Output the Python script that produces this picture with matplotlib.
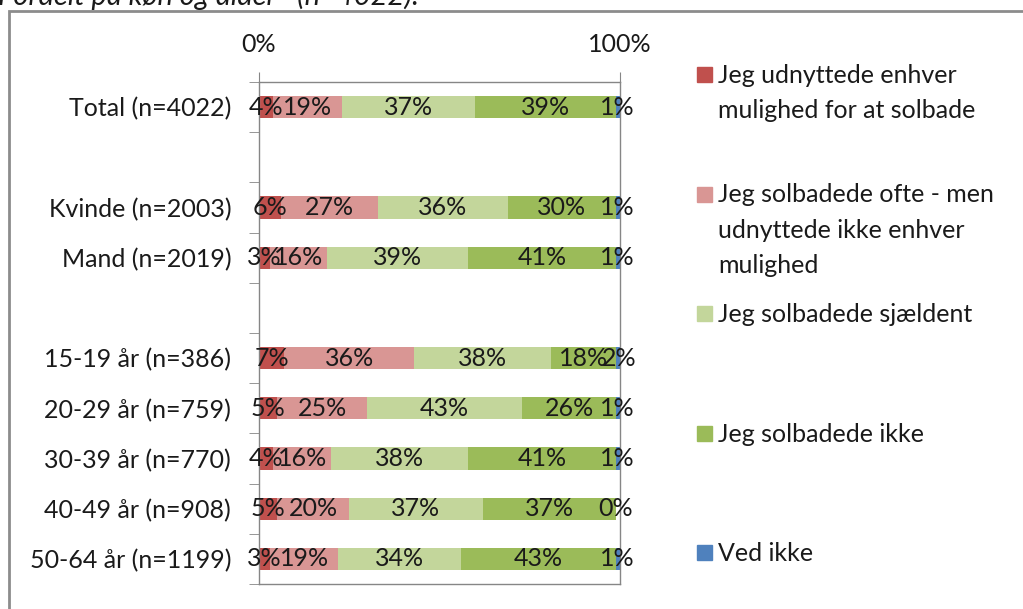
import numpy as np
import matplotlib.pyplot as plt
from matplotlib.patches import Rectangle

plt.rcParams['font.family'] = ['Lato', 'DejaVu Sans']

# Data (blank rows are spacers between groups)
grupper = ["Total (n=4022)", "", "Kvinde (n=2003)", "Mand (n=2019)", "",
           "15-19 år (n=386)", "20-29 år (n=759)", "30-39 år (n=770)",
           "40-49 år (n=908)", "50-64 år (n=1199)"]
svar = ["Jeg udnyttede enhver\nmulighed for at solbade",
        "Jeg solbadede ofte - men\nudnyttede ikke enhver\nmulighed",
        "Jeg solbadede sjældent",
        "Jeg solbadede ikke",
        "Ved ikke"]
nan = np.nan
udnyttede = [4, nan, 6, 3, nan, 7, 5, 4, 5, 3]
ofte = [19, nan, 27, 16, nan, 36, 25, 16, 20, 19]
sjaeldent = [37, nan, 36, 39, nan, 38, 43, 38, 37, 34]
ikke = [39, nan, 30, 41, nan, 18, 26, 41, 37, 43]
ved_ikke = [1, nan, 1, 1, nan, 2, 1, 1, 0, 1]

serier = [udnyttede, ofte, sjaeldent, ikke, ved_ikke]
farver = ["#C0504D", "#D99694", "#C3D69B", "#9BBB59", "#4F81BD"]

W, H = 1023, 609
fs = 18
fs_leg = 18
grå = "#868686"
tekst = "#1a1a1a"

fig = plt.figure(figsize=(W / 100, H / 100), dpi=100)
ax = fig.add_axes([259 / W, 1 - 584 / H, 360.5 / W, 502 / H])

y = np.arange(len(grupper))
venstre = np.zeros(len(grupper))
for vals, farve in zip(serier, farver):
    v = np.array(vals, dtype=float)
    ax.barh(y, np.nan_to_num(v), left=venstre, height=0.44, color=farve)
    for yi, (l, w) in enumerate(zip(venstre, v)):
        if np.isnan(w):
            continue
        ax.text(l + w / 2, yi, f"{w:.0f}%", ha="center", va="center",
                fontsize=fs, color=tekst)
    venstre += np.nan_to_num(v)

ax.set_xlim(0, 100)
ax.set_ylim(len(grupper) - 0.5, -0.5)

ax.xaxis.tick_top()
ax.set_xticks([0, 100])
ax.set_xticklabels(["0%", "100%"], fontsize=fs, color=tekst)
ax.tick_params(axis="x", direction="out", length=7, color=grå, pad=12)

ax.set_yticks(y)
ax.set_yticklabels(grupper, fontsize=fs, color=tekst)
ax.tick_params(axis="y", which="major", length=0, pad=20)
ax.set_yticks(np.arange(-0.5, len(grupper)), minor=True)
ax.tick_params(axis="y", which="minor", direction="out", length=7, color=grå)

for s in ax.spines.values():
    s.set_color(grå)
    s.set_linewidth(1)

# Legend drawn by hand, Excel style: one line of text at a time
for i, (navn, farve) in enumerate(zip(svar, farver)):
    base = 83 + i * 119.5
    fig.add_artist(Rectangle((697 / W, 1 - (base - 1) / H), 15 / W, 15 / H,
                             transform=fig.transFigure, color=farve))
    for k, linje in enumerate(navn.split("\n")):
        fig.text(718 / W, 1 - (base + k * 35) / H, linje, fontsize=fs_leg,
                 va="baseline", ha="left", color=tekst)

# Outer frame and clipped title
fig.add_artist(Rectangle((9 / W, -0.1), 1.2, 1 - 11 / H + 0.1,
                         transform=fig.transFigure, fill=False,
                         edgecolor="#8c8c8c", linewidth=2))
fig.text(-2 / W, 1 - 5 / H, "Fordelt på køn og alder   (n=4022):",
         fontsize=21, style="italic", va="baseline", ha="left", color=tekst)

fig.savefig("out.png", dpi=100)
